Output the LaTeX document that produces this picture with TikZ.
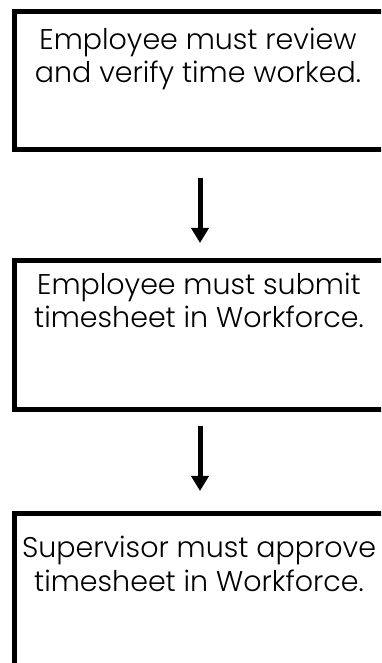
\documentclass[tikz,border=0pt]{standalone}
\usepackage{fontspec}
\setmainfont{Poppins}[UprightFont=* Light]
\usetikzlibrary{arrows.meta}
\begin{document}
\begin{tikzpicture}[x=1pt,y=1pt,
  box/.style={draw=black, line width=5pt, minimum width=372pt, inner sep=0pt},
  lbl/.style={font=\fontsize{28.5}{33.5}\selectfont, align=center, anchor=base, inner sep=0pt},
  flow/.style={line width=5pt, -{Triangle[width=17pt,length=15pt]}}]
\path[use as bounding box, clip] (0,0) rectangle (381,663);
\node[box, minimum height=138pt] (b1) at (200,582) {};
\node[box, minimum height=148.5pt] (b2) at (200,327.75) {};
\node[box, minimum height=209pt] (b3) at (200,44.5) {};
\node[lbl] (t1) at (198,580) {Employee must review\\and verify time worked.};
\node[lbl] (t2) at (199,335) {Employee must submit\\timesheet in Workforce.};
\node[lbl] (t3) at (199,71.5) {Supervisor must approve\\timesheet in Workforce.};
\draw[flow, shorten <=25.5pt, shorten >=15.5pt] (b1.south) -- (b2.north);
\draw[flow, shorten <=14pt, shorten >=20.5pt] (b2.south) -- (b3.north);
\end{tikzpicture}
\end{document}
